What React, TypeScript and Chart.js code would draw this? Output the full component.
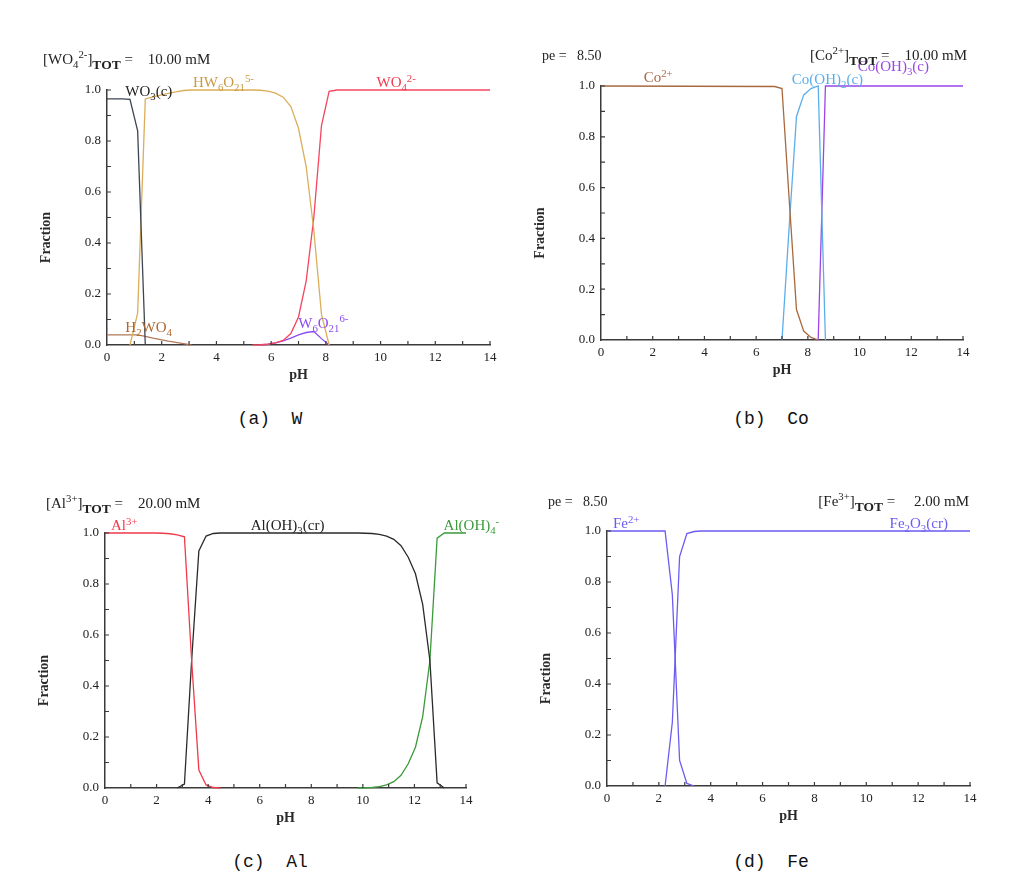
import React, { useEffect, useRef } from 'react';
import { Chart, registerables } from 'chart.js';
Chart.register(...registerables);

// ---------- DATA: (a) W ----------
const W_WO3_PH = [0, 0.28, 0.56, 0.84, 1.12, 1.4];
const W_WO3_FR = [0.965, 0.965, 0.965, 0.963, 0.84, 0.0];
const W_HW6_PH = [0.84, 1.12, 1.4, 1.68, 1.96, 2.24, 2.52, 2.8, 3.08, 5.32, 5.6, 5.88, 6.16, 6.44, 6.72, 7.0, 7.28, 7.56, 7.84, 8.12];
const W_HW6_FR = [0, 0.125, 0.965, 0.973, 0.98, 0.987, 0.993, 0.998, 1.0, 1.0, 0.999, 0.996, 0.988, 0.972, 0.935, 0.85, 0.7, 0.45, 0.12, 0.0];
const W_WO4_PH = [5.32, 5.6, 5.88, 6.16, 6.44, 6.72, 7.0, 7.28, 7.56, 7.84, 8.12, 8.4, 14];
const W_WO4_FR = [0, 0.001, 0.003, 0.008, 0.018, 0.045, 0.11, 0.25, 0.5, 0.86, 0.995, 1.0, 1.0];
const W_H2WO4_PH = [0, 0.28, 0.56, 0.84, 1.12, 1.4, 1.68, 1.96, 2.24, 2.52, 2.8, 3.08];
const W_H2WO4_FR = [0.04, 0.04, 0.04, 0.04, 0.04, 0.034, 0.027, 0.021, 0.015, 0.01, 0.005, 0];
const W_W6_PH = [5.6, 5.88, 6.16, 6.44, 6.72, 7.0, 7.28, 7.56, 7.84, 8.12];
const W_W6_FR = [0, 0.003, 0.008, 0.016, 0.027, 0.04, 0.049, 0.053, 0.025, 0];

// ---------- DATA: (b) Co ----------
const CO_CO2_PH = [0, 6.72, 7.0, 7.28, 7.56, 7.84, 8.12, 8.4];
const CO_CO2_FR = [1.0, 0.998, 0.99, 0.55, 0.12, 0.035, 0.01, 0];
const CO_OH2_PH = [7.0, 7.28, 7.56, 7.84, 8.12, 8.4, 8.68];
const CO_OH2_FR = [0, 0.45, 0.88, 0.965, 0.99, 1.0, 0];
const CO_OH3_PH = [8.4, 8.68, 14];
const CO_OH3_FR = [0, 1.0, 1.0];

// ---------- DATA: (c) Al ----------
const AL_AL3_PH = [0, 1.96, 2.24, 2.52, 2.8, 3.08, 3.36, 3.64, 3.92, 4.2, 4.48];
const AL_AL3_FR = [1.0, 1.0, 0.999, 0.997, 0.993, 0.985, 0.5, 0.07, 0.012, 0.002, 0];
const AL_OH3_PH = [2.8, 3.08, 3.36, 3.64, 3.92, 4.2, 4.48, 9.8, 10.08, 10.36, 10.64, 10.92, 11.2, 11.48, 11.76, 12.04, 12.32, 12.6, 12.88, 13.16];
const AL_OH3_FR = [0, 0.015, 0.5, 0.93, 0.988, 0.998, 1.0, 1.0, 0.999, 0.998, 0.995, 0.988, 0.975, 0.95, 0.905, 0.84, 0.72, 0.5, 0.02, 0];
const AL_OH4_PH = [9.8, 10.08, 10.36, 10.64, 10.92, 11.2, 11.48, 11.76, 12.04, 12.32, 12.6, 12.88, 13.16, 14];
const AL_OH4_FR = [0, 0.001, 0.002, 0.005, 0.012, 0.025, 0.05, 0.095, 0.16, 0.28, 0.5, 0.98, 1.0, 1.0];

// ---------- DATA: (d) Fe ----------
const FE_FE2_PH = [0, 2.24, 2.52, 2.8, 3.08, 3.36];
const FE_FE2_FR = [1.0, 1.0, 0.75, 0.1, 0.01, 0];
const FE_OX_PH = [2.24, 2.52, 2.8, 3.08, 3.36, 3.64, 14];
const FE_OX_FR = [0, 0.25, 0.9, 0.99, 0.998, 1.0, 1.0];

// ---------- AXES ----------
const X_MIN = 0, X_MAX = 14, X_STEP = 2;
const Y_MIN = 0, Y_MAX = 1, Y_STEP = 0.2;
const X_TITLE = 'pH';
const Y_TITLE = 'Fraction';
const CAPTIONS = ['(a)  W', '(b)  Co', '(c)  Al', '(d)  Fe'];

const SERIF = '"Liberation Serif", "Times New Roman", serif';
const AXIS_COLOR = '#3a3a3a';
const LABEL_SIZE = 15;
const HEADER_SIZE = 15;

type Series = { ph: number[]; fr: number[]; color: string };
type Lbl = { text: string; ph: number; f: number; color: string };
type Hdr = { text: string; dx: number; dy: number; align: 'left' | 'right'; size: number };
type Panel = {
  key: string;
  cv: { x: number; y: number; w: number; h: number };
  ca: { l: number; t: number; r: number; b: number };
  series: Series[];
  labels: Lbl[];
  headers: Hdr[];
};

const PANELS: Panel[] = [
  {
    key: 'a',
    cv: { x: 20, y: 30, w: 500, h: 370 },
    ca: { l: 107, t: 90, r: 490, b: 345 },
    series: [
      { ph: W_WO3_PH, fr: W_WO3_FR, color: '#3d4452' },
      { ph: W_HW6_PH, fr: W_HW6_FR, color: '#dcae5a' },
      { ph: W_WO4_PH, fr: W_WO4_FR, color: '#f5455e' },
      { ph: W_H2WO4_PH, fr: W_H2WO4_FR, color: '#b07a5a' },
      { ph: W_W6_PH, fr: W_W6_FR, color: '#8c4cf2' },
    ],
    labels: [
      { text: 'WO_{3}(c)', ph: 0.67, f: 0.995, color: '#222222' },
      { text: 'HW_{6}O_{21}^{5-}', ph: 3.14, f: 1.03, color: '#c99a45' },
      { text: 'WO_{4}^{2-}', ph: 9.85, f: 1.03, color: '#ee3a50' },
      { text: 'H_{2}WO_{4}', ph: 0.67, f: 0.07, color: '#b0652e' },
      { text: 'W_{6}O_{21}^{6-}', ph: 6.99, f: 0.086, color: '#8c4cf2' },
    ],
    headers: [{ text: '[WO_{4}^{2-}]~{TOT} =    10.00 mM', dx: -64, dy: -31, align: 'left', size: HEADER_SIZE }],
  },
  {
    key: 'b',
    cv: { x: 520, y: 30, w: 490, h: 370 },
    ca: { l: 601, t: 86, r: 963, b: 340 },
    series: [
      { ph: CO_CO2_PH, fr: CO_CO2_FR, color: '#a8693f' },
      { ph: CO_OH2_PH, fr: CO_OH2_FR, color: '#5caeea' },
      { ph: CO_OH3_PH, fr: CO_OH3_FR, color: '#9b45e6' },
    ],
    labels: [
      { text: 'Co^{2+}', ph: 1.65, f: 1.034, color: '#a86a48' },
      { text: 'Co(OH)_{2}(c)', ph: 7.38, f: 1.027, color: '#5caeea' },
      { text: 'Co(OH)_{3}(c)', ph: 9.93, f: 1.08, color: '#9b45e6' },
    ],
    headers: [
      { text: 'pe =   8.50', dx: -59, dy: -31, align: 'left', size: 14 },
      { text: '[Co^{2+}]~{TOT} =    10.00 mM', dx: 4, dy: -31, align: 'right', size: HEADER_SIZE },
    ],
  },
  {
    key: 'c',
    cv: { x: 20, y: 475, w: 500, h: 370 },
    ca: { l: 105, t: 533, r: 466, b: 788 },
    series: [
      { ph: AL_AL3_PH, fr: AL_AL3_FR, color: '#f0394a' },
      { ph: AL_OH3_PH, fr: AL_OH3_FR, color: '#2a2a2a' },
      { ph: AL_OH4_PH, fr: AL_OH4_FR, color: '#3b9a3b' },
    ],
    labels: [
      { text: 'Al^{3+}', ph: 0.23, f: 1.03, color: '#f0394a' },
      { text: 'Al(OH)_{3}(cr)', ph: 5.65, f: 1.03, color: '#222222' },
      { text: 'Al(OH)_{4}^{-}', ph: 13.13, f: 1.03, color: '#3b9a3b' },
    ],
    headers: [{ text: '[Al^{3+}]~{TOT} =    20.00 mM', dx: -59, dy: -30, align: 'left', size: HEADER_SIZE }],
  },
  {
    key: 'd',
    cv: { x: 520, y: 475, w: 500, h: 370 },
    ca: { l: 607, t: 531, r: 970, b: 786 },
    series: [
      { ph: FE_FE2_PH, fr: FE_FE2_FR, color: '#6b5cf2' },
      { ph: FE_OX_PH, fr: FE_OX_FR, color: '#6b5cf2' },
    ],
    labels: [
      { text: 'Fe^{2+}', ph: 0.23, f: 1.03, color: '#6b5cf2' },
      { text: 'Fe_{2}O_{3}(cr)', ph: 10.9, f: 1.03, color: '#6b5cf2' },
    ],
    headers: [
      { text: 'pe =   8.50', dx: -59, dy: -30, align: 'left', size: 14 },
      { text: '[Fe^{3+}]~{TOT} =     2.00 mM', dx: -1, dy: -30, align: 'right', size: HEADER_SIZE },
    ],
  },
];

const CAPTION_POS = [
  { x: 270, y: 419 },
  { x: 771, y: 419 },
  { x: 270, y: 862 },
  { x: 771, y: 862 },
];

type Seg = { t: string; k: 'n' | 'sub' | 'sup' | 'big' };
function parseRich(s: string): Seg[] {
  const segs: Seg[] = [];
  let i = 0;
  let buf = '';
  while (i < s.length) {
    const c = s[i];
    if ((c === '_' || c === '^' || c === '~') && s[i + 1] === '{') {
      if (buf) { segs.push({ t: buf, k: 'n' }); buf = ''; }
      const end = s.indexOf('}', i + 2);
      segs.push({ t: s.slice(i + 2, end), k: c === '_' ? 'sub' : c === '^' ? 'sup' : 'big' });
      i = end + 1;
    } else {
      buf += c;
      i++;
    }
  }
  if (buf) segs.push({ t: buf, k: 'n' });
  return segs;
}

function drawRich(ctx: CanvasRenderingContext2D, s: string, x: number, y: number, size: number, color: string, align: 'left' | 'right' | 'center') {
  const segs = parseRich(s);
  const sizeFor = (k: Seg['k']) => (k === 'n' ? size : k === 'big' ? size * 0.9 : size * 0.72);
  const dyFor = (k: Seg['k']) => (k === 'sub' ? size * 0.26 : k === 'big' ? size * 0.35 : k === 'sup' ? -size * 0.38 : 0);
  const weightFor = (k: Seg['k']) => (k === 'big' ? 'bold ' : '');
  ctx.save();
  ctx.fillStyle = color;
  ctx.textBaseline = 'alphabetic';
  ctx.textAlign = 'left';
  let w = 0;
  for (const sg of segs) {
    ctx.font = `${weightFor(sg.k)}${sizeFor(sg.k)}px ${SERIF}`;
    w += ctx.measureText(sg.t).width;
  }
  let cx = align === 'right' ? x - w : align === 'center' ? x - w / 2 : x;
  const base = y + size * 0.33;
  for (const sg of segs) {
    ctx.font = `${weightFor(sg.k)}${sizeFor(sg.k)}px ${SERIF}`;
    ctx.fillText(sg.t, cx, base + dyFor(sg.k));
    cx += ctx.measureText(sg.t).width;
  }
  ctx.restore();
}

function makeDeco(p: Panel) {
  return {
    id: 'deco_' + p.key,
    afterDraw(chart: any) {
      const { ctx, chartArea: ca } = chart;
      const xs = chart.scales.x;
      const ys = chart.scales.y;
      ctx.save();
      ctx.strokeStyle = AXIS_COLOR;
      ctx.lineWidth = 1.2;
      ctx.beginPath();
      for (let v = X_MIN + 1; v <= X_MAX; v++) {
        const px = xs.getPixelForValue(v);
        ctx.moveTo(px, ca.bottom);
        ctx.lineTo(px, ca.bottom - 4);
      }
      for (let i = 1; i <= 10; i++) {
        const py = ys.getPixelForValue(i / 10);
        ctx.moveTo(ca.left, py);
        ctx.lineTo(ca.left + 4, py);
      }
      ctx.stroke();
      ctx.restore();

      ctx.save();
      ctx.fillStyle = '#2a2a2a';
      ctx.font = `bold 14px ${SERIF}`;
      ctx.textAlign = 'center';
      ctx.textBaseline = 'middle';
      ctx.translate(ca.left - 61, (ca.top + ca.bottom) / 2 + 20);
      ctx.rotate(-Math.PI / 2);
      ctx.fillText(Y_TITLE, 0, 0);
      ctx.restore();

      ctx.save();
      ctx.fillStyle = '#2a2a2a';
      ctx.font = `bold 14px ${SERIF}`;
      ctx.textAlign = 'center';
      ctx.textBaseline = 'middle';
      ctx.fillText(X_TITLE, (ca.left + ca.right) / 2, ca.bottom + 30);
      ctx.restore();

      for (const l of p.labels) {
        drawRich(ctx, l.text, xs.getPixelForValue(l.ph), ys.getPixelForValue(l.f), LABEL_SIZE, l.color, 'left');
      }
      for (const h of p.headers) {
        const hx = h.align === 'left' ? ca.left + h.dx : ca.right + h.dx;
        drawRich(ctx, h.text, hx, ca.top + h.dy, h.size, '#222', h.align);
      }
    },
  };
}

function PanelChart({ p }: { p: Panel }) {
  const ref = useRef<HTMLCanvasElement>(null);
  useEffect(() => {
    const yW = p.ca.l - p.cv.x;
    const xH = p.cv.y + p.cv.h - p.ca.b;
    const chart = new Chart(ref.current as HTMLCanvasElement, {
      type: 'line',
      data: {
        datasets: p.series.map((s) => ({
          data: s.ph.map((v, i) => ({ x: v, y: s.fr[i] })),
          borderColor: s.color,
          borderWidth: 1.3,
          pointRadius: 0,
          tension: 0,
          fill: false,
          clip: false as any,
        })),
      },
      options: {
        animation: false,
        responsive: false,
        events: [],
        layout: {
          padding: { left: 0, top: p.ca.t - p.cv.y, right: p.cv.x + p.cv.w - p.ca.r, bottom: 0 },
        },
        plugins: { legend: { display: false }, tooltip: { enabled: false }, title: { display: false } },
        scales: {
          x: {
            type: 'linear',
            min: X_MIN,
            max: X_MAX,
            afterFit: (s: any) => { s.height = xH; },
            grid: { drawOnChartArea: false, drawTicks: false },
            border: { display: true, color: AXIS_COLOR, width: 1.5 },
            ticks: { stepSize: X_STEP, padding: 5, color: '#222', font: { family: SERIF, size: 13 } },
          },
          y: {
            type: 'linear',
            min: Y_MIN,
            max: Y_MAX,
            afterFit: (s: any) => { s.width = yW; },
            grid: { drawOnChartArea: false, drawTicks: false },
            border: { display: true, color: AXIS_COLOR, width: 1.5 },
            ticks: {
              stepSize: Y_STEP,
              padding: 6,
              color: '#222',
              font: { family: SERIF, size: 13 },
              callback: (v: any) => Number(v).toFixed(1),
            },
          },
        },
      },
      plugins: [makeDeco(p)],
    });
    return () => chart.destroy();
  }, []);
  return (
    <canvas
      ref={ref}
      width={p.cv.w}
      height={p.cv.h}
      style={{ position: 'absolute', left: p.cv.x, top: p.cv.y, width: p.cv.w, height: p.cv.h }}
    />
  );
}

export default function App() {
  return (
    <div style={{ position: 'absolute', left: 0, top: 0, width: 1029, height: 893, background: '#fff', overflow: 'hidden' }}>
      {PANELS.map((p) => (
        <PanelChart key={p.key} p={p} />
      ))}
      {CAPTIONS.map((c, i) => (
        <div
          key={c}
          style={{
            position: 'absolute',
            left: CAPTION_POS[i].x - 100,
            top: CAPTION_POS[i].y - 12,
            width: 200,
            textAlign: 'center',
            font: '18px "Liberation Mono", monospace',
            lineHeight: '24px',
            whiteSpace: 'pre',
            color: '#111',
          }}
        >
          {c}
        </div>
      ))}
    </div>
  );
}
